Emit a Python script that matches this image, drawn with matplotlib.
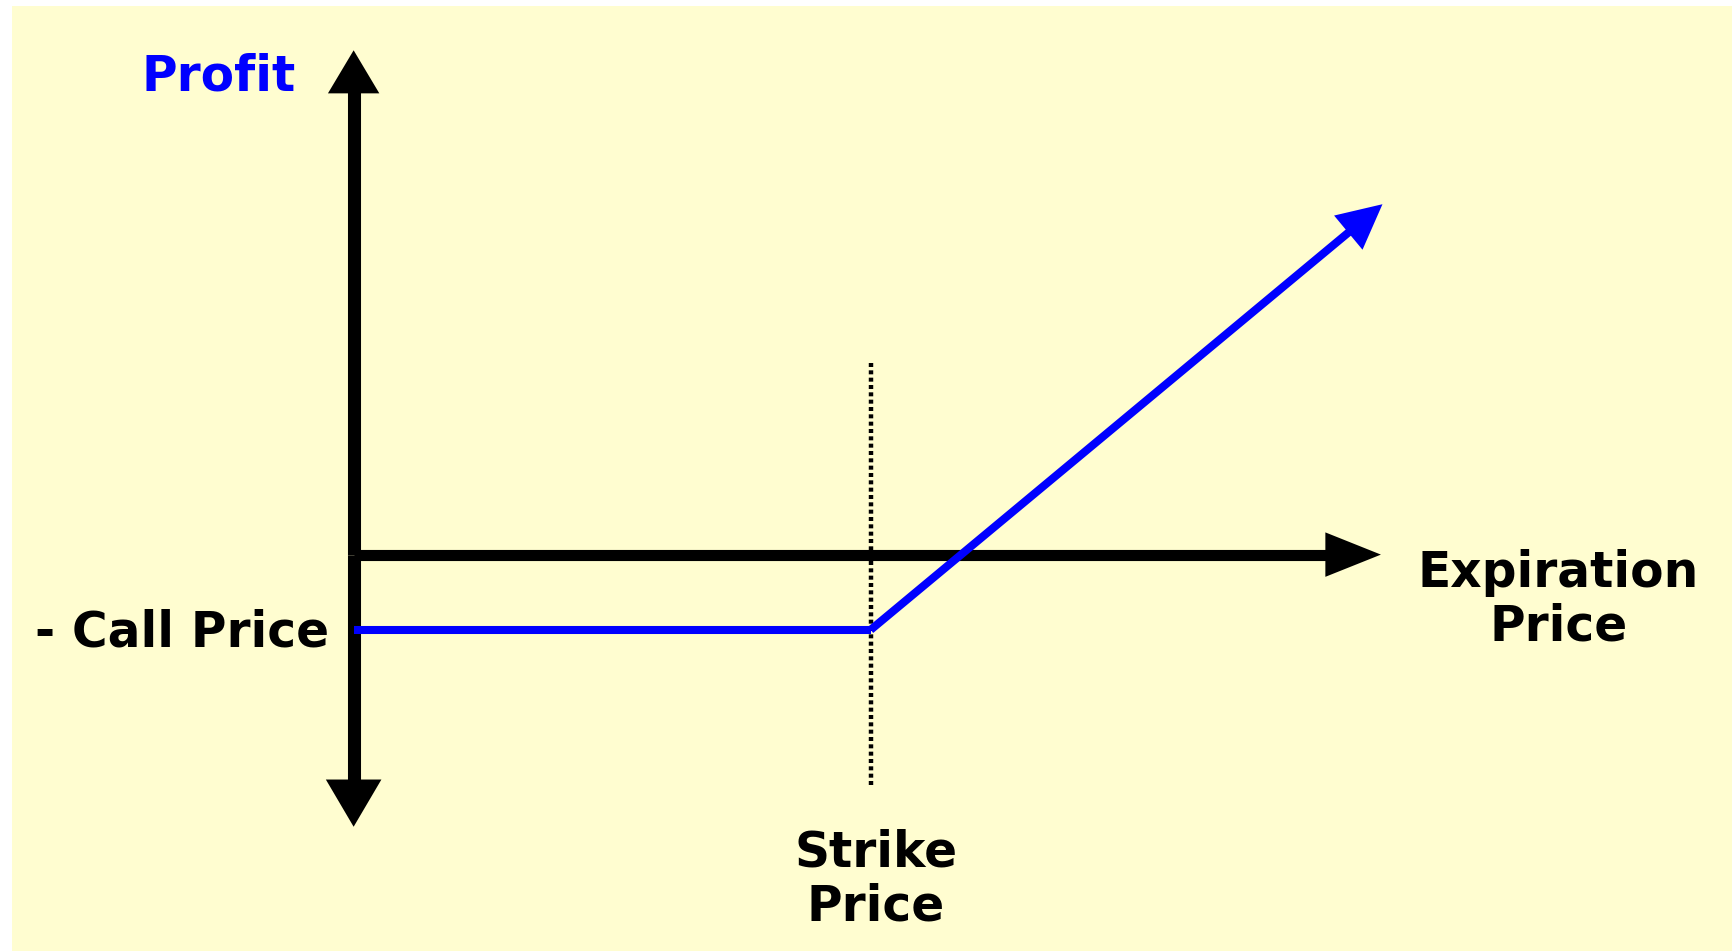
import matplotlib
matplotlib.use("Agg")
import numpy as np
import matplotlib.pyplot as plt
from matplotlib.patches import Rectangle

# Long call: winst bij expiratie
strike = 10
call_price = 1.75
prices = [0, strike, 19.9]
profit = [max(p - strike, 0) - call_price for p in prices]

profit_label = "Profit"
price_label = "Expiration\nPrice"
strike_label = "Strike\nPrice"
premium_label = "- Call Price"

bg = "#FFFDD0"
blue = "#0000FF"

fig = plt.figure(figsize=(17.33, 9.51), dpi=100)
ax = fig.add_axes([0, 0, 1, 1])
ax.set_xlim(-6.84, 26.68)
ax.set_ylim(-9.22, 12.9)
ax.axis("off")

# gele achtergrond met witte rand links en boven
ax.add_patch(Rectangle((12 / 1733, 0), 1, (951 - 6) / 951, transform=ax.transAxes,
                       facecolor=bg, edgecolor="none", zorder=0))

def arrow(x0, y0, x1, y1, color, lw, hl, hw):
    # schacht stopt halverwege de pijlpunt
    p0 = ax.transData.transform((x0, y0))
    p1 = ax.transData.transform((x1, y1))
    d = p1 - p0
    pe = p1 - d / np.hypot(*d) * hl * fig.dpi / 72 * 0.6
    xe, ye = ax.transData.inverted().transform(pe)
    ax.plot([x0, xe], [y0, ye], color=color, lw=lw, solid_capstyle="butt", zorder=3)
    ax.annotate("", xy=(x1, y1), xytext=(x0, y0),
                arrowprops=dict(arrowstyle="-|>,head_length=%.1f,head_width=%.1f" % (hl, hw),
                                mutation_scale=1, color=color, lw=0, shrinkA=0, shrinkB=0),
                zorder=4)

# assen
arrow(0, 0, 0, 11.73, "black", 9.4, 31, 18.5)
arrow(0, 0, 0, -6.33, "black", 9.4, 34, 20)
arrow(0, 0, 19.87, 0, "black", 8, 40, 16)

# strike lijn (gestippeld)
ax.plot([strike, strike], [4.45, -5.41], color="black", lw=3.2,
        linestyle=(0, (0.9, 0.75)), zorder=2)

# winstlijn
ax.plot(prices[:2], profit[:2], color=blue, lw=5.8, solid_capstyle="butt", zorder=5)
arrow(prices[1], profit[1], prices[2], profit[2], blue, 5.8, 32, 16)

fs = 35
ax.text(-2.62, 10.8, profit_label, color=blue, fontsize=fs, fontweight="bold",
        ha="center", va="baseline")
ax.text(-0.47, -2.13, premium_label, color="black", fontsize=fs, fontweight="bold",
        ha="right", va="baseline")
ax.text(23.3, 0.13, price_label, color="black", fontsize=fs, fontweight="bold",
        ha="center", va="top", multialignment="center", linespacing=1.15)
ax.text(10.1, -6.38, strike_label, color="black", fontsize=fs, fontweight="bold",
        ha="center", va="top", multialignment="center", linespacing=1.15)

fig.savefig("out.png", dpi=100, facecolor="white")
